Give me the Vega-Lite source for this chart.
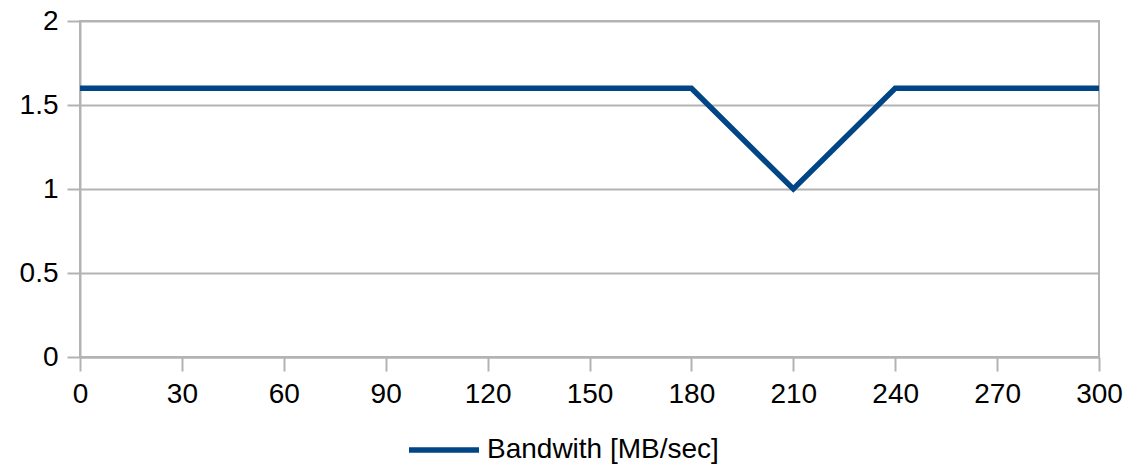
{
  "$schema": "https://vega.github.io/schema/vega-lite/v6.json",
  "width": 1019,
  "height": 336,
  "autosize": {"type": "none"},
  "padding": {"left": 80, "top": 21, "right": 41, "bottom": 107},
  "background": "white",
  "config": {
    "view": {"stroke": "#b3b3b3", "strokeWidth": 2},
    "font": "Liberation Sans"
  },
  "data": {
    "values": [
      {"t": 0, "bw": 1.6, "series": "Bandwith [MB/sec]"},
      {"t": 30, "bw": 1.6, "series": "Bandwith [MB/sec]"},
      {"t": 60, "bw": 1.6, "series": "Bandwith [MB/sec]"},
      {"t": 90, "bw": 1.6, "series": "Bandwith [MB/sec]"},
      {"t": 120, "bw": 1.6, "series": "Bandwith [MB/sec]"},
      {"t": 150, "bw": 1.6, "series": "Bandwith [MB/sec]"},
      {"t": 180, "bw": 1.6, "series": "Bandwith [MB/sec]"},
      {"t": 210, "bw": 1.0, "series": "Bandwith [MB/sec]"},
      {"t": 240, "bw": 1.6, "series": "Bandwith [MB/sec]"},
      {"t": 270, "bw": 1.6, "series": "Bandwith [MB/sec]"},
      {"t": 300, "bw": 1.6, "series": "Bandwith [MB/sec]"}
    ]
  },
  "mark": {"type": "line", "strokeWidth": 5.5, "strokeJoin": "miter"},
  "encoding": {
    "x": {
      "field": "t",
      "type": "quantitative",
      "scale": {"domain": [0, 300], "nice": false, "zero": false},
      "axis": {
        "title": null,
        "values": [0, 30, 60, 90, 120, 150, 180, 210, 240, 270, 300],
        "format": "d",
        "labelFlush": false,
        "labelOverlap": false,
        "grid": false,
        "domainColor": "#b3b3b3",
        "domainWidth": 2,
        "tickColor": "#b3b3b3",
        "tickWidth": 2,
        "tickSize": 14,
        "labelFontSize": 28,
        "labelColor": "#000000",
        "labelPadding": 9,
        "labelFont": "Liberation Sans"
      }
    },
    "y": {
      "field": "bw",
      "type": "quantitative",
      "scale": {"domain": [0, 2], "nice": false},
      "axis": {
        "title": null,
        "values": [0, 0.5, 1, 1.5, 2],
        "format": "~g",
        "labelFlush": false,
        "labelOverlap": false,
        "grid": true,
        "gridColor": "#b3b3b3",
        "gridWidth": 2,
        "domainColor": "#b3b3b3",
        "domainWidth": 2,
        "tickColor": "#b3b3b3",
        "tickWidth": 2,
        "tickSize": 13,
        "labelFontSize": 28,
        "labelColor": "#000000",
        "labelPadding": 9,
        "labelFont": "Liberation Sans"
      }
    },
    "color": {
      "field": "series",
      "type": "nominal",
      "scale": {"range": ["#004586"]},
      "legend": {
        "title": null,
        "orient": "none",
        "legendX": 326,
        "legendY": 391,
        "direction": "horizontal",
        "symbolType": "stroke",
        "symbolSize": 4900,
        "symbolStrokeWidth": 5.5,
        "labelFontSize": 28,
        "labelColor": "#000000",
        "labelFont": "Liberation Sans",
        "labelLimit": 500,
        "labelOffset": 5,
        "padding": 0
      }
    }
  }
}
